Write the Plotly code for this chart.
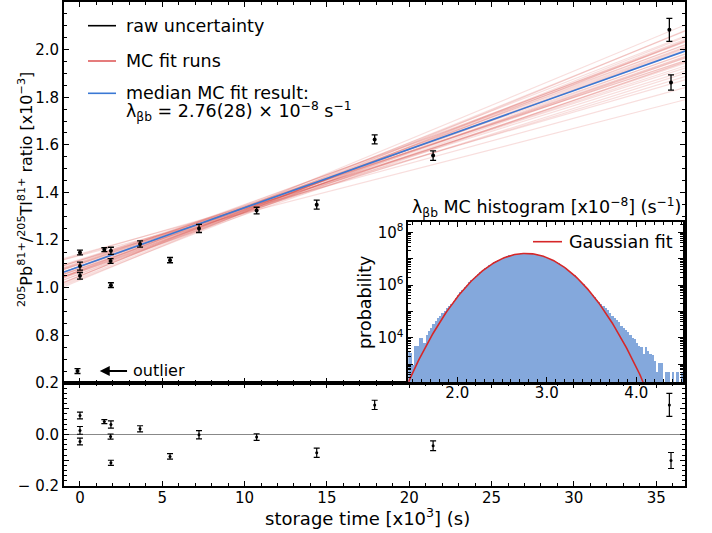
import math
import plotly.graph_objects as go

# ---------------- data ----------------
time_ks = [0, 0, 0, 1.48, 1.88, 1.86, 1.88, 3.65, 5.47, 7.23, 10.73, 14.38, 17.9, 21.45, 35.8, 35.9]
ratio = [1.148, 1.091, 1.050, 1.160, 1.155, 1.112, 1.011, 1.184, 1.116, 1.249, 1.324, 1.349,
         1.623, 1.555, 2.083, 1.862]
ratio_err = [0.010, 0.017, 0.014, 0.008, 0.015, 0.010, 0.010, 0.013, 0.011, 0.017, 0.014, 0.019,
             0.019, 0.020, 0.048, 0.032]
residual = [0.074, 0.016, -0.027, 0.050, 0.039, -0.008, -0.110, 0.022, -0.085, -0.001, -0.010,
            -0.071, 0.115, -0.044, 0.115, -0.101]
residual_err = [0.013, 0.015, 0.013, 0.008, 0.014, 0.010, 0.010, 0.012, 0.011, 0.016, 0.013,
                0.018, 0.018, 0.019, 0.045, 0.031]

outlier_time = [-0.15]
outlier_ratio = [0.65]
outlier_err = [0.010]

median_intercept = 1.090
median_slope = 0.0246

mc_intercepts = [1.0898, 1.080, 1.090, 1.0715, 1.1005, 1.066, 1.109, 1.0595, 1.1045, 1.051,
                 1.114, 1.0714, 1.0806, 1.0856, 1.1054, 1.0574, 1.0896, 1.0746, 1.1154, 1.0425,
                 1.1195, 1.049, 1.115, 1.0325, 1.138, 1.0692, 1.0908, 1.0798, 1.0724, 1.0994,
                 1.142, 1.049, 1.1354, 1.0376, 1.100, 1.067]
mc_slopes = [0.0246, 0.0250, 0.0240, 0.0255, 0.0235, 0.0260, 0.0230, 0.0265, 0.0225, 0.0270,
             0.0220, 0.0248, 0.0242, 0.0252, 0.0238, 0.0258, 0.0232, 0.0262, 0.0228, 0.0275,
             0.0215, 0.0280, 0.0210, 0.0285, 0.0200, 0.0244, 0.0256, 0.0236, 0.0268, 0.0218,
             0.0190, 0.0287, 0.0178, 0.0272, 0.0250, 0.0240]

# histogram of MC lambda values (log10 of probability per bin), bins of 0.025 from 1.45
hist_bin_start = 1.45
hist_bin_width = 0.025
hist_log10 = [3.47, 3.40, 2.96, 3.68, 3.68, 3.98, 3.98, 3.79, 4.10, 4.25, 4.36, 4.50, 4.61, 4.75,
              4.80, 4.92, 5.00, 5.10, 5.18, 5.28, 5.38,
              5.49, 5.60, 5.71, 5.81, 5.90, 6.00, 6.09, 6.17, 6.26, 6.34, 6.41, 6.49, 6.56, 6.62,
              6.68, 6.74, 6.80, 6.85, 6.90, 6.94, 6.98, 7.02, 7.05, 7.08, 7.11, 7.13, 7.15, 7.17,
              7.18, 7.19, 7.20, 7.20, 7.20, 7.19, 7.19, 7.17, 7.16, 7.14, 7.12, 7.09, 7.06, 7.03,
              6.99, 6.95, 6.91, 6.86, 6.81, 6.75, 6.70, 6.63, 6.57, 6.50, 6.43, 6.35, 6.27, 6.19,
              6.11, 6.02, 5.92, 5.83, 5.73, 5.62, 5.52, 5.42, 5.33,
              5.25, 5.19, 5.12, 5.03, 4.93, 4.82, 4.73, 4.66, 4.60, 4.45, 4.36, 4.30, 4.22, 4.09,
              3.98, 3.93, 3.77, 3.67, 3.62, 3.38, 3.62, 3.50, 3.37, 3.33, 3.12, 2.68, 3.03, 3.03,
              None, 2.70, 2.70, None, 2.70, None, 2.70, None, 2.70]

gauss_mu = 2.765
gauss_sigma = 0.277
gauss_peak_log10 = 7.2

x_tick_vals = [0, 5, 10, 15, 20, 25, 30, 35]
y_tick_vals = [0.8, 1.0, 1.2, 1.4, 1.6, 1.8, 2.0]
res_tick_vals = [-0.2, -0.1, 0.0, 0.1, 0.2]
res_tick_text = ["\u2212 0.2", "", "0.0", "", "0.2"]

# ---------------- figure ----------------
FONT = "DejaVu Sans"
XR = [-0.97, 36.75]
RED_MC = "rgba(214,60,55,0.17)"
BLUE = "#3a78d4"
HIST = "rgb(132,168,220)"
GRED = "#d62728"
LEG_SIZE = 17.5

fig = go.Figure()

# MC fit runs
for a, s in zip(mc_intercepts, mc_slopes):
    fig.add_trace(go.Scatter(x=XR, y=[a + s * XR[0], a + s * XR[1]], mode="lines",
                             line=dict(color=RED_MC, width=1.2), xaxis="x", yaxis="y",
                             hoverinfo="skip", showlegend=False))
# median line
fig.add_trace(go.Scatter(x=XR, y=[median_intercept + median_slope * XR[0],
                                  median_intercept + median_slope * XR[1]],
                         mode="lines", line=dict(color=BLUE, width=1.6),
                         xaxis="x", yaxis="y", showlegend=False))
# data
fig.add_trace(go.Scatter(x=time_ks + outlier_time, y=ratio + outlier_ratio, mode="markers",
                         marker=dict(color="black", size=4),
                         error_y=dict(type="data", array=ratio_err + outlier_err, color="black",
                                      thickness=1.3, width=3),
                         xaxis="x", yaxis="y", showlegend=False))
# residuals
fig.add_trace(go.Scatter(x=time_ks, y=residual, mode="markers",
                         marker=dict(color="black", size=3),
                         error_y=dict(type="data", array=residual_err, color="black",
                                      thickness=1.2, width=3),
                         xaxis="x2", yaxis="y2", showlegend=False))

# histogram inset
hist_x = [hist_bin_start + hist_bin_width * (i + 0.5) for i in range(len(hist_log10))]
hist_y = [None if v is None else 10 ** v for v in hist_log10]
fig.add_trace(go.Bar(x=hist_x, y=hist_y, width=hist_bin_width,
                     marker=dict(color=HIST, line=dict(width=0)),
                     xaxis="x3", yaxis="y3", showlegend=False))
n = 300
gx = [1.40 + (4.60 - 1.40) * i / (n - 1) for i in range(n)]
gy = [10 ** gauss_peak_log10 * math.exp(-((v - gauss_mu) ** 2) / (2 * gauss_sigma ** 2)) for v in gx]
fig.add_trace(go.Scatter(x=gx, y=gy, mode="lines", line=dict(color=GRED, width=1.6),
                         xaxis="x3", yaxis="y3", showlegend=False))

axis_common = dict(showline=True, linecolor="black", linewidth=2, mirror="allticks",
                   ticks="inside", ticklen=5, tickwidth=1.3, tickcolor="black",
                   showgrid=False, zeroline=False, automargin=False,
                   tickfont=dict(family=FONT, size=15, color="black"))

MAIN_BOTTOM = 0.2128
fig.update_layout(
    width=712, height=533,
    margin=dict(l=64, r=27, t=2, b=47, autoexpand=False),
    paper_bgcolor="white", plot_bgcolor="white",
    font=dict(family=FONT, color="black"),
    bargap=0,
    xaxis=dict(**axis_common, domain=[0, 1], range=XR, anchor="y", tickvals=x_tick_vals,
               showticklabels=False,
               minor=dict(ticks="inside", ticklen=3, tickwidth=1, dtick=1, tick0=0, tickcolor="black")),
    yaxis=dict(**axis_common, domain=[MAIN_BOTTOM, 1], range=[0.6, 2.2], anchor="x",
               tickvals=y_tick_vals, ticktext=["%.1f" % v for v in y_tick_vals],
               minor=dict(ticks="inside", ticklen=3, tickwidth=1, dtick=0.05, tick0=0, tickcolor="black")),
    xaxis2=dict(**axis_common, domain=[0, 1], range=XR, anchor="y2", matches="x",
                tickvals=x_tick_vals, ticklabelstandoff=-3,
                minor=dict(ticks="inside", ticklen=3, tickwidth=1, dtick=1, tick0=0, tickcolor="black")),
    yaxis2=dict(**axis_common, domain=[0, MAIN_BOTTOM], range=[-0.2, 0.2], anchor="x2",
                tickvals=res_tick_vals, ticktext=res_tick_text,
                minor=dict(ticks="inside", ticklen=3, tickwidth=1, dtick=0.02, tick0=0, tickcolor="black")),
    xaxis3=dict(**dict(axis_common, linewidth=1.5), domain=[0.5544, 0.9968], range=[1.4525, 4.522],
                anchor="y3", tickvals=[2, 3, 4], ticktext=["2.0", "3.0", "4.0"], ticklabelstandoff=-4,
                minor=dict(ticks="inside", ticklen=3, tickwidth=1, dtick=0.1, tick0=0, tickcolor="black")),
    yaxis3=dict(**dict(axis_common, linewidth=1.5), domain=[0.2149, 0.5448], type="log",
                range=[2.32, 8.38], anchor="x3",
                tickvals=[1e3, 1e4, 1e5, 1e6, 1e7, 1e8],
                ticktext=["", "10<sup>4</sup>", "", "10<sup>6</sup>", "", "10<sup>8</sup>"],
                minor=dict(ticks="inside", ticklen=3, tickwidth=1, dtick="D1", tickcolor="black")),
)

# residual zero line
fig.add_shape(type="line", xref="x2 domain", yref="y2", x0=0, x1=1, y0=0, y1=0,
              line=dict(color="#888888", width=1.2), layer="below")


def px_x(p):
    return (p - 64) / 621.0


def px_y(p):
    return (486 - p) / 484.0


# manual legend (main)
leg = [("black", 25.7, "raw uncertainty"), ("rgba(214,50,50,0.8)", 61, "MC fit runs"),
       (BLUE, 93.3, "median MC fit result:")]
for col, yy, txt in leg:
    fig.add_shape(type="line", xref="paper", yref="paper", x0=px_x(88), x1=px_x(116),
                  y0=px_y(yy), y1=px_y(yy), line=dict(color=col, width=1.6))
    fig.add_annotation(xref="paper", yref="paper", x=px_x(124), y=px_y(yy), text=txt,
                       showarrow=False, xanchor="left", yanchor="middle",
                       font=dict(family=FONT, size=LEG_SIZE, color="black"))
fig.add_annotation(xref="paper", yref="paper", x=px_x(124), y=px_y(111.5),
                   text="\u03bb<sub>\u03b2b</sub> = 2.76(28) \u00d7 10<sup>\u22128</sup> s<sup>\u22121</sup>",
                   showarrow=False, xanchor="left", yanchor="middle",
                   font=dict(family=FONT, size=LEG_SIZE, color="black"))

# inset legend
fig.add_shape(type="line", xref="paper", yref="paper", x0=px_x(533), x1=px_x(562),
              y0=px_y(241.7), y1=px_y(241.7), line=dict(color=GRED, width=1.6))
fig.add_annotation(xref="paper", yref="paper", x=px_x(567), y=px_y(241.7), text="Gaussian fit",
                   showarrow=False, xanchor="left", yanchor="middle",
                   font=dict(family=FONT, size=LEG_SIZE, color="black"))

# inset title and y label
fig.add_annotation(xref="paper", yref="paper", x=px_x(546), y=px_y(207),
                   text="\u03bb<sub>\u03b2b</sub> MC histogram [x10<sup>\u22128</sup>] (s<sup>\u22121</sup>)",
                   showarrow=False, xanchor="center", yanchor="middle",
                   font=dict(family=FONT, size=LEG_SIZE, color="black"))
fig.add_annotation(xref="paper", yref="paper", x=px_x(365), y=px_y(303), text="probability",
                   textangle=-90, showarrow=False, xanchor="center", yanchor="middle",
                   font=dict(family=FONT, size=LEG_SIZE, color="black"))

# axis titles
fig.add_annotation(xref="paper", yref="paper", x=px_x(25), y=px_y(190),
                   text="<sup>205</sup>Pb<sup>81+</sup>/<sup>205</sup>Tl<sup>81+</sup> ratio [x10<sup>\u22123</sup>]",
                   textangle=-90, showarrow=False, xanchor="center", yanchor="middle",
                   font=dict(family=FONT, size=16, color="black"))
fig.add_annotation(xref="paper", yref="paper", x=px_x(367), y=px_y(517),
                   text="storage time [x10<sup>3</sup>] (s)",
                   showarrow=False, xanchor="center", yanchor="middle",
                   font=dict(family=FONT, size=18, color="black"))

# outlier arrow + label
fig.add_annotation(xref="x", yref="y", x=1.2, y=0.65, axref="x", ayref="y", ax=2.95, ay=0.65,
                   text="", showarrow=True, arrowhead=2, arrowsize=1, arrowwidth=2,
                   arrowcolor="black")
fig.add_annotation(xref="x", yref="y", x=3.1, y=0.652, text="outlier", showarrow=False,
                   xanchor="left", yanchor="middle",
                   font=dict(family=FONT, size=16, color="black"))

fig.write_html("out.html", config={"displayModeBar": False},
               post_script="document.body.style.margin='0px';")
